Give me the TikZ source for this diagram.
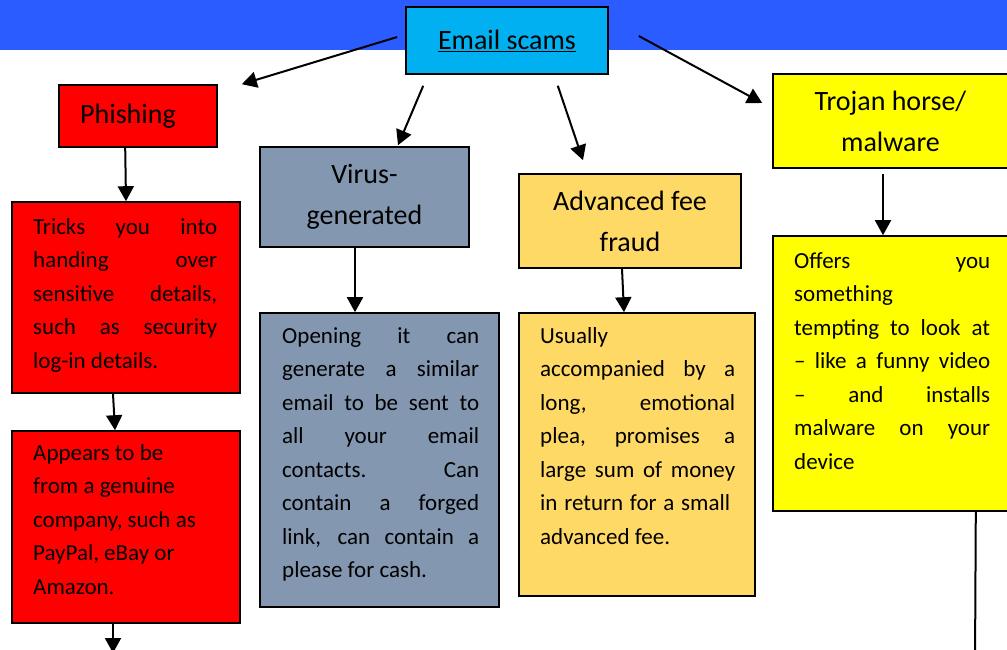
\documentclass[tikz,border=0pt]{standalone}
\usepackage{fontspec}
\setmainfont{Carlito}
\usetikzlibrary{arrows.meta,calc}

\definecolor{bandblue}{RGB}{43,92,255}
\definecolor{scamcyan}{RGB}{0,176,240}
\definecolor{phishred}{RGB}{255,0,0}
\definecolor{virusslate}{RGB}{132,151,176}
\definecolor{feegold}{RGB}{255,217,102}
\definecolor{trojanyellow}{RGB}{255,255,0}

% one justified line, one ragged line, and a column of such lines
\newcommand\jl[1]{\hbox to\hsize{#1}}
\newcommand\rl[1]{\hbox{#1}}
\newcommand\textcol[2]{\vtop{\hsize=#1\baselineskip=33.5pt\lineskiplimit=-100pt\lineskip=0pt #2}}

\tikzset{
  box/.style={draw=black, line width=1.6pt, inner sep=0pt, anchor=center},
  title/.style={box, align=center, font=\fontsize{28}{41}\selectfont},
  bodytext/.style={anchor=base west, inner sep=0pt, font=\fontsize{23}{33.5}\selectfont},
  arr/.style={line width=2pt, -{Triangle[width=16pt,length=15pt]}},
  link/.style={line width=2pt}
}

\begin{document}
\begin{tikzpicture}[x=1pt,y=-1pt]
\useasboundingbox (0,0) rectangle (1007,649);
\clip (0,0) rectangle (1007,649);

% header band
\fill[bandblue] (0,0) rectangle (1007,50);

% category boxes
\node[title, fill=scamcyan, minimum width=202pt, minimum height=67pt] (email) at (507,40.5) {\underline{Email scams}};
\node[title, fill=phishred, minimum width=158pt, minimum height=62pt] (phish) at (138,116) {Phishing\hspace{20pt}};
\node[title, fill=virusslate, minimum width=209pt, minimum height=100pt] (virus) at (364.5,197) {Virus-\\generated};
\node[title, fill=feegold, minimum width=222pt, minimum height=94pt] (adv) at (630,221) {Advanced fee\\fraud};
\node[title, fill=trojanyellow, minimum width=235pt, minimum height=94pt] (trojan) at (890.5,121) {Trojan horse/\\malware};

% description boxes
\node[box, fill=phishred, minimum width=228pt, minimum height=191pt] (tricks) at (126,297.5) {};
\node[box, fill=phishred, minimum width=228pt, minimum height=192pt] (appears) at (126,527) {};
\node[box, fill=virusslate, minimum width=239pt, minimum height=294pt] (virusT) at (379.5,460) {};
\node[box, fill=feegold, minimum width=236pt, minimum height=283pt] (advT) at (637,454.5) {};
\node[box, fill=trojanyellow, minimum width=235pt, minimum height=275pt] (offers) at (890.5,373.5) {};

% description texts
\node[bodytext] (tricksTxt) at (33,234) {\textcol{184pt}{%
  \jl{Tricks you into}
  \jl{handing over}
  \jl{sensitive details,}
  \jl{such as security}
  \rl{log-in details.}}};
\node[bodytext] (appearsTxt) at (33,460) {\textcol{190pt}{%
  \rl{Appears to be}
  \rl{from a genuine}
  \rl{company, such as}
  \rl{PayPal, eBay or}
  \rl{Amazon.}}};
\node[bodytext] (virusTxt) at (282,343) {\textcol{197pt}{%
  \jl{Opening it can}
  \jl{generate a similar}
  \jl{email to be sent to}
  \jl{all your email}
  \jl{contacts. Can}
  \jl{contain a forged}
  \jl{link, can contain a}
  \rl{please for cash.}}};
\node[bodytext] (advTxt) at (540,343) {\textcol{195pt}{%
  \rl{Usually}
  \jl{accompanied by a}
  \jl{long, emotional}
  \jl{plea, promises a}
  \jl{large sum of money}
  \hbox to 190pt{in return for a small}
  \rl{advanced fee.}}};
\node[bodytext] (offersTxt) at (794,268) {\textcol{196pt}{%
  \jl{Offers you}
  \rl{something}
  \jl{tempting to look at}
  \jl{– like a funny video}
  \jl{– and installs}
  \jl{malware on your}
  \rl{device}}};

% free ends below the picture edge
\coordinate (nextPhish) at (113,653);
\coordinate (nextTrojan) at (975,665);

% connectors from the top box
\draw[arr] ($(email.west)+(-8,-3.5)$) -- ($(phish.north east)+(24,0)$);
\draw[arr] ($(email.south west)+(18,11)$) -- ($(virus.north)+(33.5,-1)$);
\draw[arr] ($(email.south east)+(-51,11)$) -- ($(adv.north)+(-47,-13)$);
\draw[arr] ($(email.east)+(30,-4.5)$) -- ($(trojan.west)+(-10,-18)$);

% connectors down each column
\draw[arr] ($(phish.south west)+(67,0)$) -- ($(tricks.north)+(0,0)$);
\draw[arr] ($(tricks.south)+(-13,0)$) -- ($(appears.north)+(-11,0)$);
\draw[arr] ($(appears.south)+(-13,0)$) -- (nextPhish);
\draw[arr] ($(virus.south)+(-9.5,0)$) -- ($(virusT.north)+(-24.5,0)$);
\draw[arr] ($(adv.south)+(-8,0)$) -- ($(advT.north)+(-13,0)$);
\draw[arr] ($(trojan.south)+(-7.5,5)$) -- ($(offers.north)+(-7.5,0)$);
\draw[link] ($(offers.south east)+(-33,0)$) -- (nextTrojan);
\end{tikzpicture}
\end{document}
